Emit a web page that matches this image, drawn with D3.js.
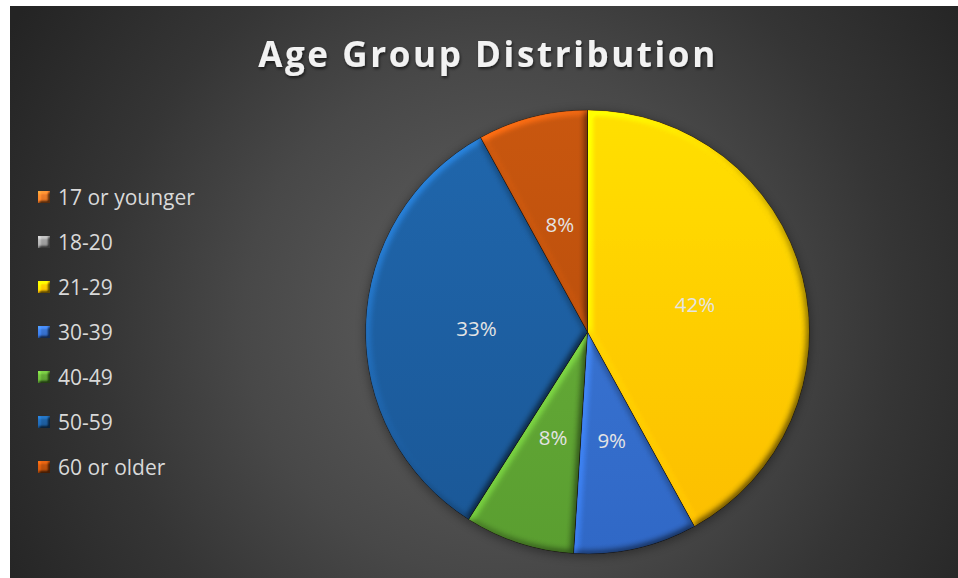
<!DOCTYPE html>
<html>
<head>
<meta charset="utf-8">
<script src="https://cdn.jsdelivr.net/npm/d3@7"></script>
<style>
  html, body { margin: 0; padding: 0; background: #ffffff; }
  svg { display: block; }
</style>
</head>
<body>
<svg id="chart" width="958" height="578"></svg>
<script>
// Age groups and their share of respondents (percent)
const categories = ["17 or younger", "18-20", "21-29", "30-39", "40-49", "50-59", "60 or older"];
const shares = [0, 0, 42, 9, 8, 33, 8];
// Slice colours: lighter tone at the top of the pie, deeper tone at the bottom
const topColors = ["#F0832F", "#A8A8A8", "#FFDF00", "#3F7BD9", "#6CB33C", "#2067AD", "#C9570F"];
const bottomColors = ["#E07020", "#959595", "#FBBC00", "#3068C6", "#5A9E30", "#1A5796", "#B14A0A"];
const titleText = "Age Group Distribution";

const W = 958, H = 578;
const svg = d3.select("#chart");
const defs = svg.append("defs");

// Dark panel with a soft radial glow
const bg = defs.append("radialGradient")
  .attr("id", "panelGlow").attr("gradientUnits", "userSpaceOnUse")
  .attr("cx", 500).attr("cy", 320).attr("r", 570);
[[0, "#5c5c5c"], [0.22, "#555555"], [0.45, "#484848"], [0.7, "#353535"], [1, "#242424"]]
  .forEach(([o, c]) => bg.append("stop").attr("offset", o).attr("stop-color", c));

svg.append("rect").attr("x", 10).attr("y", 6).attr("width", W - 10).attr("height", H - 6)
  .attr("fill", "url(#panelGlow)");

// Bevel: lighting derived from each shape's blurred alpha, multiplied into its fill
function bevelFilter(id, blur, scale) {
  const f = defs.append("filter").attr("id", id)
    .attr("x", "-10%").attr("y", "-10%").attr("width", "120%").attr("height", "120%")
    .attr("color-interpolation-filters", "sRGB");
  f.append("feGaussianBlur").attr("in", "SourceAlpha").attr("stdDeviation", blur).attr("result", "b");
  f.append("feDiffuseLighting").attr("in", "b").attr("surfaceScale", scale)
    .attr("diffuseConstant", 0.778).attr("lighting-color", "#ffffff").attr("result", "d")
    .append("feDistantLight").attr("azimuth", 225).attr("elevation", 40);
  f.append("feComposite").attr("in", "SourceGraphic").attr("in2", "d")
    .attr("operator", "arithmetic").attr("k1", 1.2).attr("k2", 0.4).attr("k3", 0).attr("k4", 0)
    .attr("result", "lit");
  f.append("feComposite").attr("in", "lit").attr("in2", "SourceAlpha").attr("operator", "in");
}
bevelFilter("sliceBevel", 3.5, 3);
bevelFilter("keyBevel", 1.5, 2.5);

const shadow = defs.append("filter").attr("id", "titleShadow")
  .attr("x", "-5%").attr("y", "-30%").attr("width", "110%").attr("height", "160%");
shadow.append("feDropShadow").attr("dx", 1).attr("dy", 2).attr("stdDeviation", 1.5)
  .attr("flood-color", "#000").attr("flood-opacity", 0.6);

const halo = defs.append("filter").attr("id", "pieHalo")
  .attr("x", "-20%").attr("y", "-20%").attr("width", "140%").attr("height", "140%");
halo.append("feGaussianBlur").attr("stdDeviation", 5);

// Title
svg.append("text")
  .attr("x", 488).attr("y", 67)
  .attr("text-anchor", "middle")
  .attr("font-family", "'Open Sans', sans-serif")
  .attr("font-weight", 700).attr("font-size", 35)
  .attr("letter-spacing", 2.6)
  .attr("fill", "#f2f2f2")
  .attr("filter", "url(#titleShadow)")
  .text(titleText);

// Pie
const cx = 587.5, cy = 332, R = 222;
const data = categories.map((c, i) => ({ category: c, value: shares[i], i }));
const pie = d3.pie().sort(null).value(d => d.value);
const arc = d3.arc().innerRadius(0).outerRadius(R);
const labelArc = d3.arc().innerRadius(0).outerRadius(R);

data.forEach(d => {
  const g = defs.append("linearGradient").attr("id", "fill" + d.i)
    .attr("gradientUnits", "userSpaceOnUse")
    .attr("x1", 0).attr("y1", -R).attr("x2", 0).attr("y2", R);
  g.append("stop").attr("offset", 0).attr("stop-color", topColors[d.i]);
  g.append("stop").attr("offset", 1).attr("stop-color", bottomColors[d.i]);
});

const pieG = svg.append("g").attr("transform", `translate(${cx},${cy})`);
const arcs = pie(data).filter(a => a.data.value > 0);

// soft dark halo under the pie
pieG.append("circle").attr("r", R + 1).attr("cy", 2)
  .attr("fill", "#000").attr("opacity", 0.35).attr("filter", "url(#pieHalo)");

pieG.selectAll("path.slice").data(arcs).join("path")
  .attr("class", "slice")
  .attr("d", arc)
  .attr("fill", a => `url(#fill${a.data.i})`)
  .attr("stroke", "rgba(30,20,10,0.45)")
  .attr("stroke-width", 1)
  .attr("filter", "url(#sliceBevel)");

pieG.selectAll("text.value").data(arcs).join("text")
  .attr("class", "value")
  .attr("transform", a => `translate(${labelArc.centroid(a)})`)
  .attr("text-anchor", "middle")
  .attr("dy", "0.36em")
  .attr("font-family", "'Open Sans', sans-serif")
  .attr("font-size", 20.5)
  .attr("fill", "#e4e4e4")
  .text(a => d3.format(".0%")(a.data.value / 100));

// Legend
const legendY = d3.scalePoint().domain(categories).range([197, 467]);
data.forEach(d => {
  const g = defs.append("linearGradient").attr("id", "key" + d.i)
    .attr("x1", 0).attr("y1", 0).attr("x2", 0).attr("y2", 1);
  g.append("stop").attr("offset", 0).attr("stop-color", topColors[d.i]);
  g.append("stop").attr("offset", 1).attr("stop-color", bottomColors[d.i]);
});
const legend = svg.append("g");
const rows = legend.selectAll("g").data(data).join("g")
  .attr("transform", d => `translate(38,${legendY(d.category)})`);
rows.append("rect")
  .attr("x", 0).attr("y", -6).attr("width", 12).attr("height", 12)
  .attr("fill", d => `url(#key${d.i})`)
  .attr("filter", "url(#keyBevel)");
rows.append("text")
  .attr("x", 20).attr("y", 7.5)
  .attr("font-family", "'Open Sans', sans-serif")
  .attr("font-size", 21)
  .attr("fill", "#d9d9d9")
  .text(d => d.category);
</script>
</body>
</html>
